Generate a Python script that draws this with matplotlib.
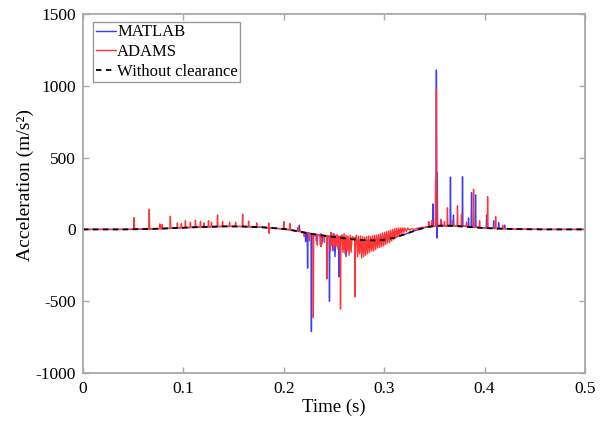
import matplotlib
matplotlib.use("Agg")
import matplotlib.pyplot as plt
import numpy as np

plt.rcParams["font.family"] = ["Liberation Serif", "DejaVu Serif"]
plt.rcParams["axes.unicode_minus"] = False

# ---- reference response without joint clearance (dashed) ----
nominal_t = [0.00, 0.02, 0.04, 0.06, 0.08, 0.10, 0.12, 0.14, 0.16, 0.18,
             0.20, 0.21, 0.22, 0.23, 0.24, 0.25, 0.26, 0.27, 0.28, 0.29,
             0.30, 0.31, 0.32, 0.33, 0.34, 0.35, 0.36, 0.37, 0.38, 0.39,
             0.40, 0.42, 0.44, 0.46, 0.48, 0.50]
nominal_a = [0, 0, 0, 2, 6, 12, 17, 21, 20, 14,
             3, -8, -22, -34, -44, -53, -62, -70, -75, -77,
             -72, -58, -35, -10, 12, 25, 27, 24, 19, 14,
             9, 4, 1, 0, 0, 0]

# ---- ADAMS simulation (time, acceleration) ----
adams_before = [
    (0.000, 0), (0.020, 0), (0.040, 0),
    (0.0506, 0), (0.0510, 82), (0.0514, 0),
    (0.0600, 2),
    (0.0656, 3), (0.0660, 140), (0.0664, 3),
    (0.0720, 4),
    (0.0761, 5), (0.0765, 38), (0.0769, 5),
    (0.0785, 5), (0.0789, 34), (0.0793, 5),
    (0.0866, 8), (0.0870, 92), (0.0874, 8),
    (0.0936, 10), (0.0940, 45), (0.0944, 10),
    (0.0976, 11), (0.0980, 40), (0.0984, 11),
    (0.1016, 12), (0.1020, 60), (0.1024, 12),
    (0.1066, 13), (0.1070, 50), (0.1074, 13),
    (0.1116, 15), (0.1120, 65), (0.1124, 15),
    (0.1166, 16), (0.1170, 55), (0.1174, 16),
    (0.1201, 17), (0.1205, 45), (0.1209, 17),
    (0.1246, 18), (0.1250, 60), (0.1254, 18),
    (0.1276, 18), (0.1280, 50), (0.1284, 18),
    (0.1336, 19), (0.1340, 100), (0.1344, 19),
    (0.1386, 20), (0.1390, 55), (0.1394, 20),
    (0.1456, 21), (0.1460, 50), (0.1464, 21),
    (0.1516, 21), (0.1520, 50), (0.1524, 21),
    (0.1586, 20), (0.1590, 107), (0.1594, 20),
    (0.1646, 19), (0.1650, 57), (0.1654, 19),
    (0.1726, 17), (0.1730, 45), (0.1734, 17),
    (0.1846, 12), (0.1850, 45), (0.1854, -27), (0.1858, 12),
    (0.1996, 3), (0.2000, 55), (0.2004, 3),
    (0.2056, -2), (0.2060, 40), (0.2064, -2),
    (0.2120, -10),
]
adams_impact = [
    (0.2136, -12), (0.2140, 15), (0.2144, -14),
    (0.2200, -20), (0.2204, -50), (0.2208, -22),
    (0.2250, -28), (0.2254, -80), (0.2258, -30),
    (0.2286, -32), (0.2290, -85), (0.2294, -615), (0.2298, -60), (0.2302, -34),
    (0.2330, -36), (0.2334, -110), (0.2338, -38),
    (0.2366, -40), (0.2370, -120), (0.2374, -40),
    (0.2400, -42), (0.2404, -90), (0.2408, -43),
    (0.2426, -44), (0.2430, -345), (0.2434, -44),
    (0.2460, -50), (0.2465, -150), (0.2470, -20), (0.2480, -110), (0.2490, -30),
    (0.2500, -130), (0.2510, -40), (0.2520, -120), (0.2530, -35),
    (0.2540, -140), (0.2550, -45),
    (0.2561, -60), (0.2565, -555), (0.2569, -60),
    (0.2580, -40), (0.2590, -160), (0.2600, -30), (0.2610, -170), (0.2620, -40),
    (0.2630, -150), (0.2640, -45), (0.2650, -180), (0.2660, -40), (0.2670, -160),
    (0.2680, -50),
    (0.2706, -60), (0.2710, -470), (0.2714, -60),
    (0.2725, -40), (0.2735, -190), (0.2745, -50), (0.2755, -170), (0.2765, -45),
    (0.2775, -200), (0.2785, -50), (0.2795, -190), (0.2805, -55), (0.2815, -180),
    (0.2825, -50), (0.2835, -170), (0.2845, -45), (0.2855, -160), (0.2865, -50),
    (0.2875, -150), (0.2885, -45), (0.2895, -150), (0.2905, -40), (0.2915, -140),
    (0.2925, -40), (0.2935, -130), (0.2945, -35), (0.2955, -125), (0.2965, -30),
    (0.2975, -120), (0.2985, -25), (0.2995, -115), (0.3005, -20), (0.3015, -105),
    (0.3025, -15), (0.3035, -95), (0.3045, -10), (0.3055, -90), (0.3065, -5),
    (0.3075, -80), (0.3085, 0), (0.3095, -70), (0.3105, 5), (0.3115, -60),
    (0.3125, 8), (0.3135, -50), (0.3145, 10), (0.3155, -40), (0.3165, 10),
    (0.3175, -30), (0.3185, 10), (0.3195, -20), (0.3205, 10), (0.3220, -15),
    (0.3235, 10), (0.3250, -5), (0.3270, 5), (0.3300, 0), (0.3330, 8),
    (0.3360, 12), (0.3400, 15),
]
adams_after = [
    (0.3440, 18), (0.3444, 55), (0.3448, 18),
    (0.3470, 20), (0.3474, 60), (0.3478, 20),
    (0.3508, 22), (0.3512, 344), (0.3516, 22), (0.3520, 976), (0.3524, 30), (0.3528, 22),
    (0.3560, 24), (0.3564, 70), (0.3568, 24),
    (0.3596, 25), (0.3600, 55), (0.3604, 25),
    (0.3626, 25), (0.3630, 150), (0.3634, 25),
    (0.3676, 25), (0.3680, 60), (0.3684, 25),
    (0.3726, 24), (0.3730, 165), (0.3734, 24),
    (0.3766, 23), (0.3770, 107), (0.3774, 23),
    (0.3816, 20), (0.3820, 50), (0.3824, 20),
    (0.3886, 16), (0.3890, 280), (0.3894, 16),
    (0.3946, 12), (0.3950, 60), (0.3954, 12),
    (0.4026, 9), (0.4030, 228), (0.4034, 9),
    (0.4106, 6), (0.4110, 88), (0.4114, 6),
    (0.4176, 5), (0.4180, 30), (0.4184, 5),
    (0.4250, 3), (0.4400, 1), (0.4600, 0), (0.5000, 0),
]

# ---- MATLAB model (time, acceleration) ----
matlab_before = [
    (0.00, 0), (0.02, 0), (0.04, 0), (0.06, 2), (0.08, 6), (0.10, 12),
    (0.12, 17), (0.14, 21), (0.16, 20), (0.18, 14), (0.20, 3), (0.21, -8),
]
matlab_impact = [
    (0.2151, -10), (0.2155, 30), (0.2159, -12),
    (0.2213, -20), (0.2217, -85), (0.2221, -22),
    (0.2233, -24), (0.2237, -270), (0.2241, -24),
    (0.2271, -28), (0.2275, -712), (0.2279, -30),
    (0.2320, -35), (0.2325, -80), (0.2330, -36),
    (0.2360, -40), (0.2365, -110), (0.2370, -30), (0.2380, -100), (0.2390, -40),
    (0.2451, -48), (0.2455, -500), (0.2459, -48),
    (0.2480, -40), (0.2490, -150), (0.2500, -30), (0.2510, -190), (0.2520, -45),
    (0.2546, -55), (0.2550, -330), (0.2554, -55),
    (0.2580, -40), (0.2590, -140), (0.2600, -50), (0.2620, -190), (0.2630, -55),
    (0.2650, -120), (0.2670, -65),
    (0.2700, -70), (0.2720, -100), (0.2740, -70), (0.2780, -85), (0.2800, -75),
    (0.2850, -80), (0.2900, -77), (0.3000, -72), (0.3100, -58), (0.3200, -35),
    (0.3300, -10), (0.3400, 12),
]
matlab_after = [
    (0.3450, 20), (0.3481, 20), (0.3485, 177), (0.3489, 20),
    (0.3516, 22), (0.3520, 1110), (0.3524, -60), (0.3528, 393), (0.3532, 22),
    (0.3566, 24), (0.3570, 50), (0.3574, 24),
    (0.3656, 25), (0.3660, 365), (0.3664, 25),
    (0.3686, 25), (0.3690, 100), (0.3694, 25),
    (0.3776, 24), (0.3780, 367), (0.3784, 24),
    (0.3836, 20), (0.3840, 80), (0.3844, 20),
    (0.3866, 18), (0.3870, 256), (0.3874, 18),
    (0.3906, 16), (0.3910, 240), (0.3914, 16),
    (0.4016, 9), (0.4020, 100), (0.4024, 9),
    (0.4086, 7), (0.4090, 60), (0.4094, 7),
    (0.4136, 6), (0.4140, 47), (0.4144, 6),
    (0.4196, 5), (0.4200, 30), (0.4204, 5),
    (0.4250, 3), (0.4400, 1), (0.4600, 0), (0.5000, 0),
]

x_ticks = [0, 0.1, 0.2, 0.3, 0.4, 0.5]
x_tick_labels = ["0", "0.1", "0.2", "0.3", "0.4", "0.5"]
y_ticks = [-1000, -500, 0, 500, 1000, 1500]
series_names = ["MATLAB", "ADAMS", "Without clearance"]

matlab_t, matlab_a = zip(*(matlab_before + matlab_impact + matlab_after))
adams_t, adams_a = zip(*(adams_before + adams_impact + adams_after))

fig = plt.figure(figsize=(6.06, 4.26), dpi=100)
ax = fig.add_axes([83 / 606, 53 / 426, 502 / 606, 359 / 426])

ax.plot(matlab_t, matlab_a, color="#3c3cff", lw=1.0, label=series_names[0])
ax.plot(adams_t, adams_a, color="#ff3535", lw=1.0, label=series_names[1])
ax.plot(nominal_t, nominal_a, color="black", lw=1.3, ls=(0, (3, 2.5)),
        label=series_names[2])

ax.set_xlim(0, 0.5)
ax.set_ylim(-1000, 1500)
ax.set_xticks(x_ticks)
ax.set_xticklabels(x_tick_labels)
ax.set_yticks(y_ticks)

for s in ax.spines.values():
    s.set_color("#a8a8a8")
    s.set_linewidth(1.3)
ax.tick_params(direction="in", length=4, width=1, color="#a8a8a8",
               top=True, right=True, labelsize=12.5, labelcolor="black")
ax.tick_params(axis="x", pad=6)
ax.tick_params(axis="y", pad=5)

ax.set_xlabel("Time (s)", fontsize=13.5, labelpad=1)
ax.set_ylabel("Acceleration (m/s²)", fontsize=14)
ax.yaxis.set_label_coords(-0.098, 0.524)

leg = ax.legend(loc="upper left", bbox_to_anchor=(0.02, 0.978),
                borderaxespad=0, fontsize=12, handlelength=1.2,
                handletextpad=0.1, labelspacing=0.22, borderpad=0.15,
                fancybox=False, framealpha=1, edgecolor="#999999")
leg.get_frame().set_linewidth(1.0)

fig.savefig("out.png", dpi=100)
